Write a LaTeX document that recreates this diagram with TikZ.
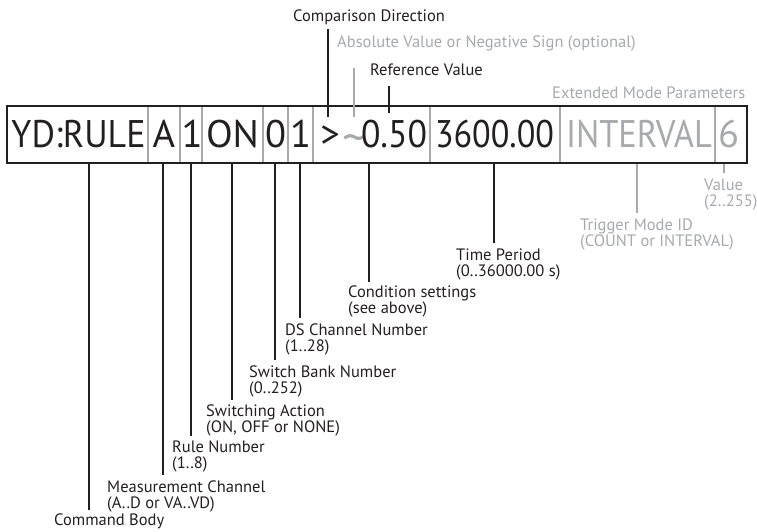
\documentclass[tikz,border=0pt]{standalone}
\usepackage{fontspec}
\usepackage{graphicx}
\setmainfont{PT Sans}
\definecolor{ink}{HTML}{231F20}
\definecolor{soft}{HTML}{A7A9AC}
\newcommand{\fitto}[2]{\resizebox{#1}{\height}{#2}}
\begin{document}
\begin{tikzpicture}[x=1pt,y=-1pt,
  big/.style={font=\fontsize{38.5}{40}\selectfont, inner sep=0pt, anchor=base, text=ink},
  bigsoft/.style={big, text=soft},
  lbl/.style={font=\fontsize{16.5}{16}\selectfont, inner sep=0pt, anchor=base west, align=left, text=ink},
  lblsoft/.style={lbl, text=soft},
  lead/.style={draw=ink, line width=1.7pt},
  leadsoft/.style={draw=soft, line width=1.7pt},
  sepline/.style={draw=soft, line width=1.5pt},
  boxline/.style={draw=ink, line width=2pt}]
\useasboundingbox (0,0) rectangle (757,531);
% command box
\coordinate (boxNW) at (7,106);
\coordinate (boxSE) at (747,163);
\foreach \sx in {148,180,202,263,288,313,430,560,715}
  \draw[sepline] (\sx,107) -- (\sx,162);
\draw[boxline] (boxNW) rectangle (boxSE);
% command text
\node[big] (tYD) at (78.5,147) {\fitto{134pt}{YD:RULE}};
\node[big] (tA) at (164,147) {A};
\node[big] (tR) at (192,147) {1};
\node[big] (tON) at (232.5,147) {\fitto{53pt}{ON}};
\node[big] (tB) at (275.5,147) {0};
\node[big] (tC) at (300.5,147) {1};
\node[big] (tGt) at (330,147) {>};
\node[bigsoft] (tTi) at (354,147) {\raisebox{-7pt}{\resizebox{24pt}{!}{\textasciitilde}}};
\node[big] (tRef) at (394,147) {\fitto{66pt}{0.50}};
\node[big] (tTime) at (494.5,147) {\fitto{119pt}{3600.00}};
\node[bigsoft] (tInt) at (639,147) {\fitto{146pt}{INTERVAL}};
\node[bigsoft] (tSix) at (728.5,147) {6};
% top labels
\node[lbl] (lCmp) at (293,21) {Comparison Direction};
\node[lblsoft] (lAbs) at (337,47) {Absolute Value or Negative Sign (optional)};
\node[lbl] (lRef) at (370,75) {Reference Value};
\node[lblsoft] (lExt) at (552,98) {Extended Mode Parameters};
\coordinate (cmpA) at (328,29);  \coordinate (cmpB) at (328,117);
\coordinate (absA) at (354,68);  \coordinate (absB) at (354,117);
\coordinate (refA) at (389,86);  \coordinate (refB) at (389,113);
\draw[lead] (cmpA) -- (cmpB);
\draw[leadsoft] (absA) -- (absB);
\draw[lead] (refA) -- (refB);
% bottom labels (anchored at the baseline of their last line)
\node[lbl] (lBody) at (54,525) {Command Body};
\node[lbl] (lMeas) at (107,508) {Measurement Channel\\(A..D or VA..VD)};
\node[lbl] (lRule) at (172,468) {Rule Number\\(1..8)};
\node[lbl] (lAct) at (206,432) {Switching Action\\(ON, OFF or NONE)};
\node[lbl] (lBank) at (249,393) {Switch Bank Number\\(0..252)};
\node[lbl] (lDS) at (285,351) {DS Channel Number\\(1..28)};
\node[lbl] (lCond) at (348,313) {Condition settings\\(see above)};
\node[lbl] (lTime) at (456,276) {Time Period\\(0..36000.00 s)};
\node[lblsoft] (lTrig) at (580,246) {Trigger Mode ID\\(COUNT or INTERVAL)};
\node[lblsoft] (lVal) at (704,206) {Value\\(2..255)};
% bottom leaders
\coordinate (bBody) at (89,164);  \coordinate (eBody) at (89,510);
\coordinate (bMeas) at (163,164); \coordinate (eMeas) at (163,475);
\coordinate (bRule) at (191,164); \coordinate (eRule) at (191,436);
\coordinate (bAct) at (232,164);  \coordinate (eAct) at (232,400);
\coordinate (bBank) at (275,164); \coordinate (eBank) at (275,360);
\coordinate (bDS) at (300,164);   \coordinate (eDS) at (300,318);
\coordinate (bCond) at (369,164); \coordinate (eCond) at (369,282);
\coordinate (bTime) at (494,164); \coordinate (eTime) at (494,243);
\coordinate (bTrig) at (637,164); \coordinate (eTrig) at (637,213);
\coordinate (bVal) at (724,164);  \coordinate (eVal) at (724,173);
\draw[lead] (bBody) -- (eBody);
\draw[lead] (bMeas) -- (eMeas);
\draw[lead] (bRule) -- (eRule);
\draw[lead] (bAct) -- (eAct);
\draw[lead] (bBank) -- (eBank);
\draw[lead] (bDS) -- (eDS);
\draw[lead] (bCond) -- (eCond);
\draw[lead] (bTime) -- (eTime);
\draw[leadsoft] (bTrig) -- (eTrig);
\draw[leadsoft] (bVal) -- (eVal);
\end{tikzpicture}
\end{document}
